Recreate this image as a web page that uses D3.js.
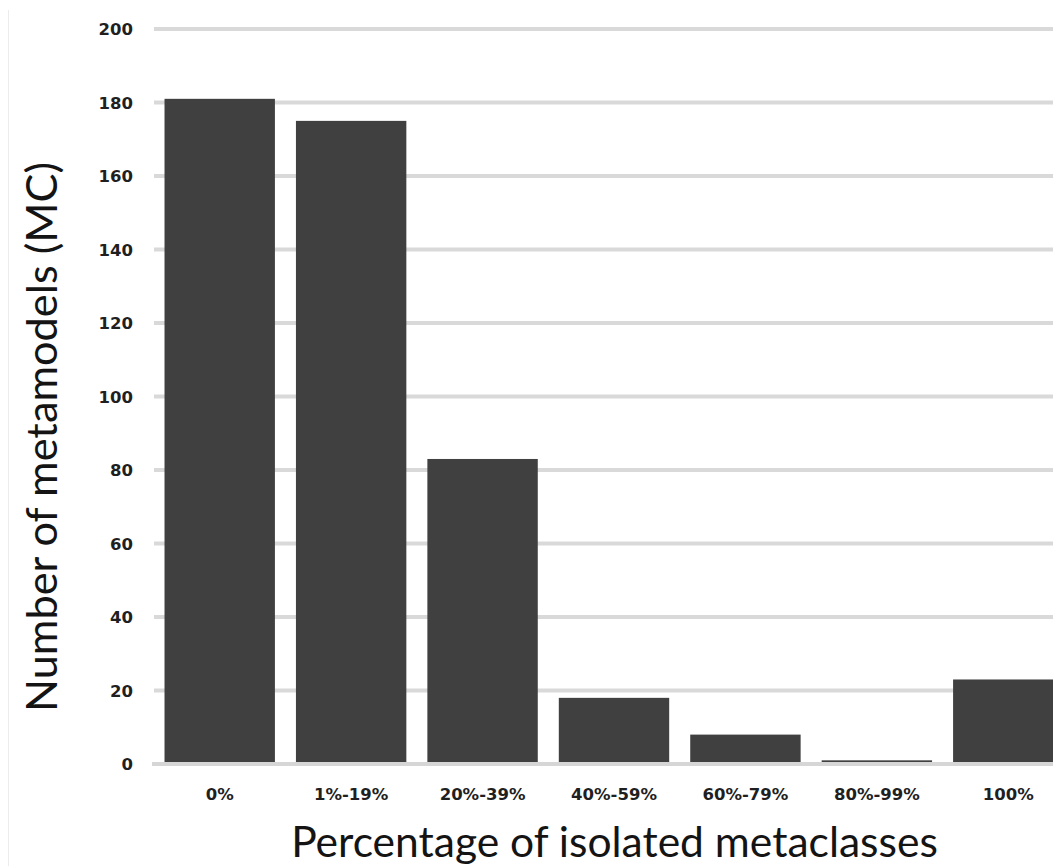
<!DOCTYPE html>
<html>
<head>
<meta charset="utf-8">
<script src="https://cdn.jsdelivr.net/npm/d3@7/dist/d3.min.js"></script>
<style>
  html, body { margin: 0; padding: 0; background: #ffffff; }
  svg { display: block; }
</style>
</head>
<body>
<svg id="chart" width="1053" height="866"></svg>
<script>
// ---- data ----
const categories = ["0%", "1%-19%", "20%-39%", "40%-59%", "60%-79%", "80%-99%", "100%"];
const counts = [181, 175, 83, 18, 8, 1, 23];
const yTicks = [0, 20, 40, 60, 80, 100, 120, 140, 160, 180, 200];
const xTitle = "Percentage of isolated metaclasses";
const yTitle = "Number of metamodels (MC)";

const svg = d3.select("#chart");

const x = d3.scaleBand().domain(categories).range([154, 1074]).paddingInner(0.16).paddingOuter(0.08);
const y = d3.scaleLinear().domain([0, 200]).range([764, 29]);

// faint frame line at left
svg.append("line").attr("x1", 8.5).attr("x2", 8.5).attr("y1", 10).attr("y2", 866)
  .attr("stroke", "#ececec").attr("stroke-width", 1);

// gridlines
const grid = svg.append("g");
grid.selectAll("line").data(yTicks.filter(d => d > 0)).join("line")
  .attr("x1", 154).attr("x2", 1074)
  .attr("y1", d => y(d)).attr("y2", d => y(d))
  .attr("stroke", "#d9d9d9").attr("stroke-width", 4);

// bars
svg.append("g").selectAll("rect").data(categories).join("rect")
  .attr("x", d => x(d))
  .attr("width", x.bandwidth())
  .attr("y", (d, i) => y(counts[i]))
  .attr("height", (d, i) => y(0) - y(counts[i]) - 2)
  .attr("fill", "#404040");

// zero line
svg.append("line").attr("x1", 152).attr("x2", 1074).attr("y1", y(0)).attr("y2", y(0))
  .attr("stroke", "#d6d6d6").attr("stroke-width", 4);

// y axis labels
const yAxis = d3.axisLeft(y).tickValues(yTicks).tickSize(0).tickPadding(0);
const gy = svg.append("g").attr("transform", "translate(133,0)").call(yAxis);
gy.select(".domain").remove();
gy.selectAll("text")
  .attr("font-family", "'DejaVu Sans', sans-serif")
  .attr("font-weight", "bold")
  .attr("font-size", 16.5)
  .attr("fill", "#1f1f1f")
  .attr("dy", "0.36em");

// x axis labels
const xAxis = d3.axisBottom(x).tickSize(0).tickPadding(0);
const gx = svg.append("g").attr("transform", "translate(0,788)").call(xAxis);
gx.select(".domain").remove();
gx.selectAll("text")
  .attr("font-family", "'DejaVu Sans', sans-serif")
  .attr("font-weight", "bold")
  .attr("font-size", 16.5)
  .attr("fill", "#1f1f1f")
  .attr("dy", "0.75em");

// titles, sized to match target widths
function fitText(sel, target) {
  sel.attr("font-size", 100);
  const w = sel.node().getComputedTextLength();
  sel.attr("font-size", 100 * target / w);
}
const xt = svg.append("text").text(xTitle)
  .attr("x", 614.5).attr("y", 857)
  .attr("text-anchor", "middle")
  .attr("font-family", "Lato, sans-serif")
  .attr("fill", "#141414");
fitText(xt, 647);

const yt = svg.append("text").text(yTitle)
  .attr("transform", "translate(57,437) rotate(-90)")
  .attr("text-anchor", "middle")
  .attr("font-family", "Lato, sans-serif")
  .attr("fill", "#141414");
fitText(yt, 550);
</script>
</body>
</html>
